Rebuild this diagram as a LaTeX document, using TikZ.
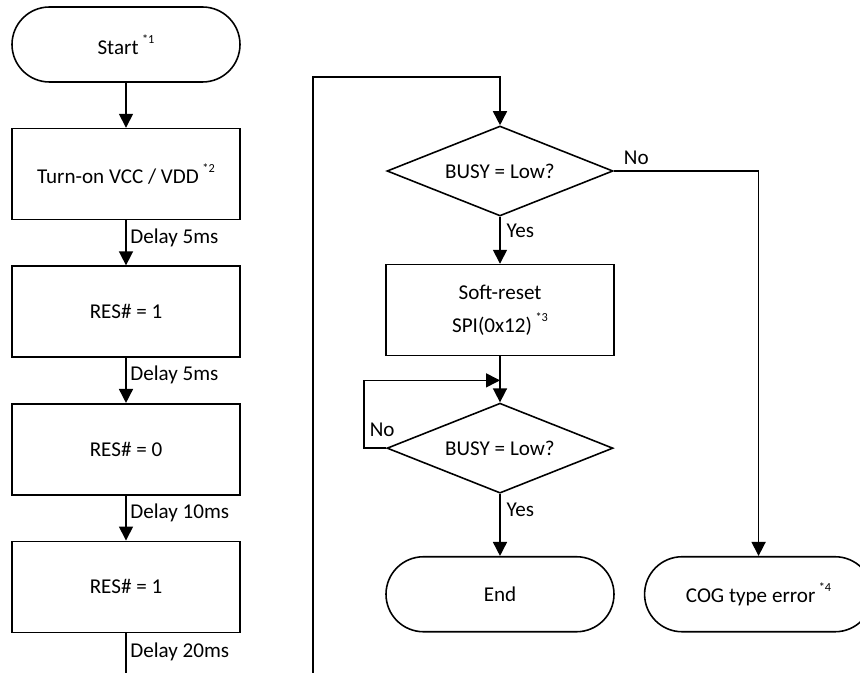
\documentclass[tikz,border=0pt]{standalone}
\usepackage{fontspec}
\setmainfont{Carlito}
\usetikzlibrary{shapes.geometric, arrows.meta, positioning}
\tikzstyle{Terminal} = [draw, rectangle, rounded corners=0.75cm, minimum width=4.56cm, minimum height=1.5cm]
\tikzstyle{Process} = [draw, rectangle, minimum width=4.56cm, minimum height=1.82cm]
\tikzstyle{Decision} = [draw, diamond, aspect=2.5, inner sep=0pt, minimum width=4.52cm, minimum height=1.8cm]
\tikzstyle{Delay} = [right, pos=0.38, inner sep=2pt]

\begin{document}
\begin{tikzpicture}
    [align=center, node distance = 0.9cm, line width=0.9pt, font=\fontsize{12}{14}\selectfont,
     >={Triangle[length=0.28cm, width=0.28cm]}]
    \useasboundingbox (0,0) rectangle (17.2,-13.46);

    %% Power-on sequence
    \node [Terminal] at (2.52,-0.89) (start) {Start\,\raisebox{1.1ex}{\scriptsize *1}};
    \node [Process, below= of start] (power) {Turn-on VCC / VDD\,\raisebox{1.1ex}{\scriptsize *2}};
    \node [Process, below= of power] (reset1) {RES\# = 1};
    \node [Process, below= of reset1] (reset0) {RES\# = 0};
    \node [Process, below= of reset0] (reset2) {RES\# = 1};
    \coordinate [below=1.0cm of reset2.south] (contL);

    %% Busy check
    \node [Decision] at (10.0,-3.42) (busy1) {BUSY = Low?};
    \node [Process, below= 0.94cm of busy1] (softreset) {Soft-reset\\[5pt]SPI(0x12)\,\raisebox{1.1ex}{\scriptsize *3}};
    \node [Decision, below= 0.92cm of softreset] (busy2) {BUSY = Low?};
    \node [Terminal, below= 1.24cm of busy2] (finish) {End};
    \node [Terminal, right= 0.58cm of finish] (coger) {COG type error\,\raisebox{1.1ex}{\scriptsize *4}};
    \coordinate (contR) at (6.26,-13.6);

    %% Draw
    \draw [->] (start) -- (power);
    \draw [->] (power) -- node[Delay] {Delay 5ms} (reset1);
    \draw [->] (reset1) -- node[Delay] {Delay 5ms} (reset0);
    \draw [->] (reset0) -- node[Delay] {Delay 10ms} (reset2);
    \draw (reset2) -- node[Delay] {Delay 20ms} (contL);

    \draw [->] (contR) |- ([yshift=0.96cm]busy1.north) -- (busy1.north);
    \draw [->] (busy1) -- node[right, pos=0.3] {Yes} (softreset);
    \draw [->] (busy1.east) -| node[at start, above right, xshift=2pt] {No} (coger.north);
    \draw [->] (softreset) -- (busy2);
    \draw [->] (busy2.west) -- node[above, xshift=4pt, yshift=3pt] {No} ++(-0.44,0)
        |- ([yshift=0.44cm]busy2.north);
    \draw [->] (busy2) -- node[right, pos=0.25] {Yes} (finish);

\end{tikzpicture}
\end{document}
